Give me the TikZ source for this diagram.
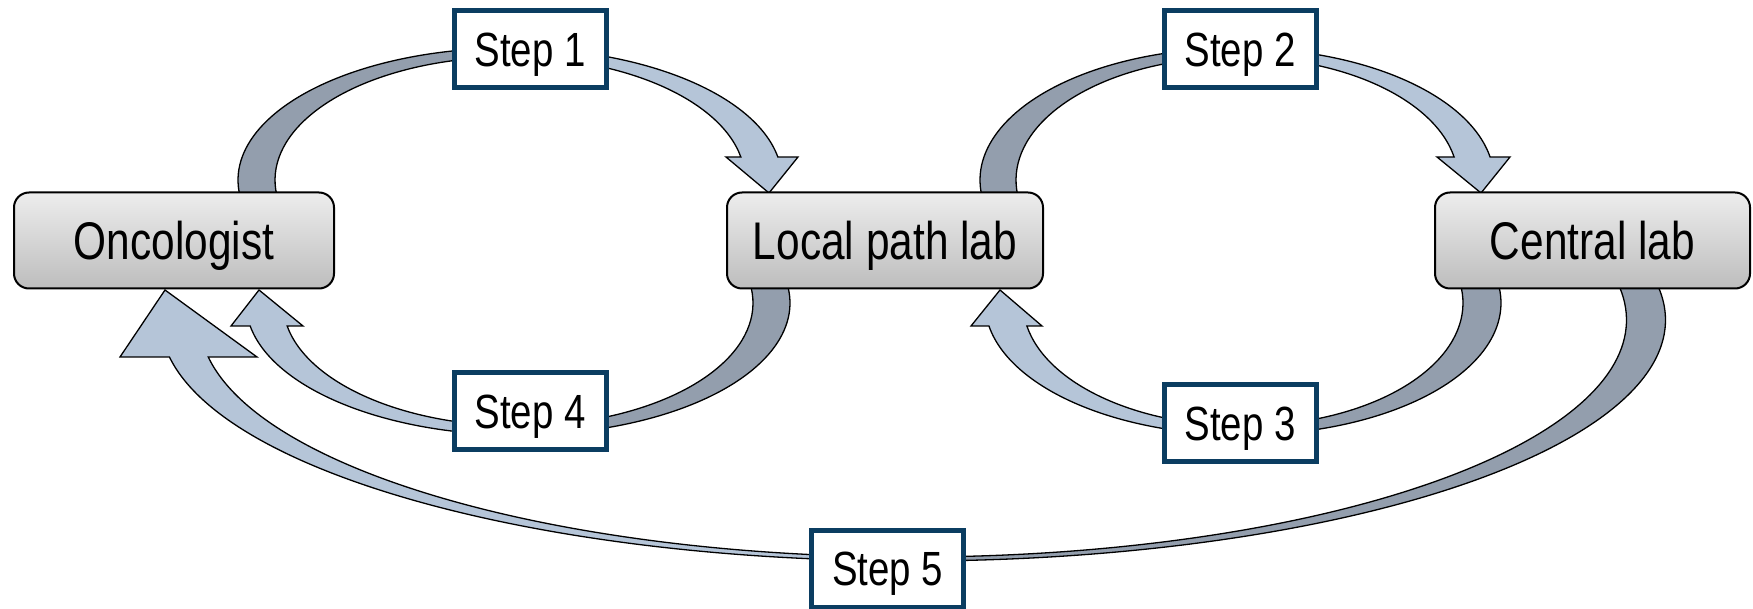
\documentclass[tikz,border=0pt]{standalone}
\usepackage{fontspec}
\setmainfont{Liberation Sans}[FakeStretch=0.8]
\definecolor{banddark}{HTML}{939EAD}
\definecolor{bandlight}{HTML}{B5C5D8}
\definecolor{boxtop}{HTML}{EDEDED}
\definecolor{boxbot}{HTML}{BDBDBD}
\definecolor{stepblue}{HTML}{0B3D61}
\tikzset{
  entity/.style={draw=black, line width=2pt, rounded corners=15pt,
    top color=boxtop, bottom color=boxbot, minimum height=96pt, inner sep=0pt,
    text height=38pt, text depth=0pt,
    font=\fontsize{53}{62}\selectfont},
  stepbox/.style={draw=stepblue, line width=5pt, fill=white,
    minimum width=152pt, minimum height=77pt, inner sep=0pt,
    text height=34.4pt, text depth=0pt,
    font=\fontsize{48}{56}\selectfont},
  darkband/.style={fill=banddark, draw=black, line width=1.3pt},
  lightband/.style={fill=bandlight, draw=black, line width=1.3pt, line join=miter}
}
\begin{document}
\begin{tikzpicture}[x=1pt,y=1pt]
\useasboundingbox (0,0) rectangle (1753,608);
% centres of the curved bands
\coordinate (c1) at (510,428);
\coordinate (c2) at (1237,428);
\coordinate (c3) at (1243,305);
\coordinate (c4) at (518,305);
\coordinate (c5) at (913,288);
% arrowhead corners
\coordinate (h1a) at (798,451); \coordinate (h1t) at (769,415); \coordinate (h1b) at (726,451);
\coordinate (h2a) at (1510,451); \coordinate (h2t) at (1481,415); \coordinate (h2b) at (1437,451);
\coordinate (h3a) at (971,282); \coordinate (h3t) at (1000,318); \coordinate (h3b) at (1042,282);
\coordinate (h4a) at (231,282); \coordinate (h4t) at (259,318); \coordinate (h4b) at (303,282);
\coordinate (h5a) at (120,251); \coordinate (h5t) at (165,318); \coordinate (h5b) at (257,251);

% Step 1 band: Oncologist -> Local path lab
\path[darkband] ([shift={(188.7:272 and 132)}]c1) arc[start angle=188.7, end angle=90, x radius=272, y radius=132]
  -- ([shift={(90:235 and 123)}]c1) arc[start angle=90, end angle=189.4, x radius=235, y radius=123] -- cycle;
\path[lightband] ([shift={(90:272 and 132)}]c1) arc[start angle=90, end angle=10.03, x radius=272, y radius=132]
  -- (h1a) -- (h1t) -- (h1b)
  -- ([shift={(10.78:235 and 123)}]c1) arc[start angle=10.78, end angle=90, x radius=235, y radius=123] -- cycle;

% Step 2 band: Local path lab -> Central lab
\path[darkband] ([shift={(188.7:257 and 132)}]c2) arc[start angle=188.7, end angle=90, x radius=257, y radius=132]
  -- ([shift={(90:221 and 123)}]c2) arc[start angle=90, end angle=189.4, x radius=221, y radius=123] -- cycle;
\path[lightband] ([shift={(90:257 and 132)}]c2) arc[start angle=90, end angle=10.03, x radius=257, y radius=132]
  -- (h2a) -- (h2t) -- (h2b)
  -- ([shift={(10.78:221 and 123)}]c2) arc[start angle=10.78, end angle=90, x radius=221, y radius=123] -- cycle;

% Step 3 band: Central lab -> Local path lab
\path[darkband] ([shift={(8.7:258 and 132)}]c3) arc[start angle=8.7, end angle=-90, x radius=258, y radius=132]
  -- ([shift={(-90:220 and 123)}]c3) arc[start angle=-90, end angle=9.36, x radius=220, y radius=123] -- cycle;
\path[lightband] ([shift={(-90:258 and 132)}]c3) arc[start angle=-90, end angle=-169.97, x radius=258, y radius=132]
  -- (h3a) -- (h3t) -- (h3b)
  -- ([shift={(-169.22:220 and 123)}]c3) arc[start angle=-169.22, end angle=-90, x radius=220, y radius=123] -- cycle;

% Step 4 band: Local path lab -> Oncologist
\path[darkband] ([shift={(8.7:272 and 132)}]c4) arc[start angle=8.7, end angle=-90, x radius=272, y radius=132]
  -- ([shift={(-90:235 and 123)}]c4) arc[start angle=-90, end angle=9.36, x radius=235, y radius=123] -- cycle;
\path[lightband] ([shift={(-90:272 and 132)}]c4) arc[start angle=-90, end angle=-169.97, x radius=272, y radius=132]
  -- (h4a) -- (h4t) -- (h4b)
  -- ([shift={(-169.22:235 and 123)}]c4) arc[start angle=-169.22, end angle=-90, x radius=235, y radius=123] -- cycle;

% Step 5 band: Central lab -> Oncologist
\path[darkband] ([shift={(8.83:752.5 and 241)}]c5) arc[start angle=8.83, end angle=-90, x radius=752.5, y radius=241]
  -- ([shift={(-90:713.5 and 237)}]c5) arc[start angle=-90, end angle=8.98, x radius=713.5, y radius=237] -- cycle;
\path[lightband] ([shift={(-90:752.5 and 241)}]c5) arc[start angle=-90, end angle=-171.17, x radius=752.5, y radius=241]
  -- (h5a) -- (h5t) -- (h5b)
  -- ([shift={(-171.02:713.5 and 237)}]c5) arc[start angle=-171.02, end angle=-90, x radius=713.5, y radius=237] -- cycle;

% entity boxes
\node[entity, minimum width=320pt] (onc) at (174,367.5) {Oncologist};
\node[entity, minimum width=316pt] (loc) at (885,367.5) {Local path lab};
\node[entity, minimum width=315pt] (cen) at (1592.5,367.5) {Central lab};

% step labels
\node[stepbox] (s1) at (530,558.5) {Step 1};
\node[stepbox] (s2) at (1240,558.5) {Step 2};
\node[stepbox] (s3) at (1240,184.5) {Step 3};
\node[stepbox] (s4) at (530,197) {Step 4};
\node[stepbox] (s5) at (887.5,39.5) {Step 5};
\end{tikzpicture}
\end{document}
